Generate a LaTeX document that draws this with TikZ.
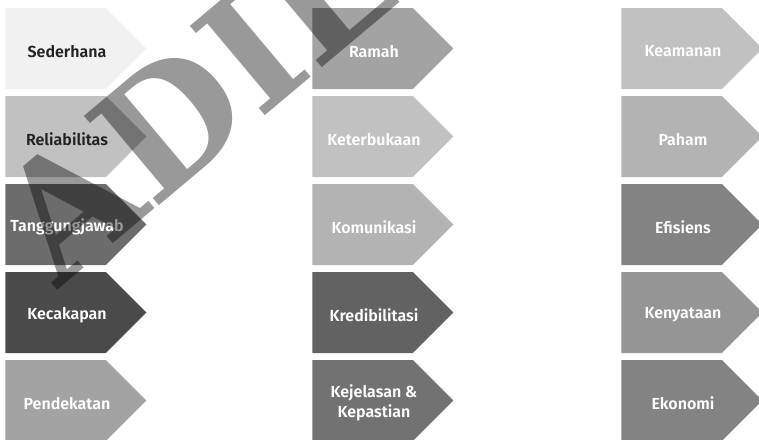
\documentclass[tikz,border=0pt]{standalone}
\usepackage{fontspec}
\setmainfont{Fira Sans}
\newfontfamily\tagfont{Fira Sans SemiBold}
\newfontfamily\wmfont{DejaVu Serif}
\usetikzlibrary{shapes.symbols}
\definecolor{inkdark}{HTML}{222222}
\definecolor{tagpale}{HTML}{F0F1F0}
\definecolor{taglight}{HTML}{C1C1C1}
\definecolor{tagsilver}{HTML}{B3B3B3}
\definecolor{tagmid}{HTML}{A3A3A3}
\definecolor{tagsteel}{HTML}{959595}
\definecolor{tagslate}{HTML}{828382}
\definecolor{tagiron}{HTML}{717271}
\definecolor{tagdim}{HTML}{626262}
\definecolor{tagcoal}{HTML}{4A4A4A}

\begin{document}
\begin{tikzpicture}[x=0.75pt, y=-0.75pt,
  tagbox/.style={shape=signal, signal to=east, signal pointer angle=90, minimum width=105.75pt,
    minimum height=60.75pt, inner sep=0pt, anchor=west},
  tagtext/.style={anchor=center, xshift=46.5pt, yshift=-2pt, align=center, text=white,
    font=\tagfont\fontsize{12}{15}\selectfont},
  darktext/.style={tagtext, text=inkdark},
  watermark/.style={anchor=base west, rotate=40, text=black, text opacity=0.4, inner sep=0pt,
    font=\wmfont\bfseries\fontsize{120}{120}\selectfont}]
\useasboundingbox (0,0) rectangle (759,439);
% first column
\node[tagbox, fill=tagpale, label={[darktext]west:Sederhana}] (sederhana) at (5,48.5) {};
\node[tagbox, fill=taglight, label={[darktext]west:Reliabilitas}] (reliabilitas) at (5,136.5) {};
\node[tagbox, fill=tagiron!95!black, label={[tagtext]west:Tanggungjawab}] (tanggungjawab) at (5,224.5) {};
\node[tagbox, fill=tagcoal, label={[tagtext]west:Kecakapan}] (kecakapan) at (5,312.5) {};
\node[tagbox, fill=tagmid, label={[tagtext]west:Pendekatan}] (pendekatan) at (5,400.5) {};
% second column
\node[tagbox, fill=tagmid, label={[tagtext]west:Ramah}] (ramah) at (312,48.5) {};
\node[tagbox, fill=taglight, label={[tagtext]west:Keterbukaan}] (keterbukaan) at (312,136.5) {};
\node[tagbox, fill=tagsilver, label={[tagtext]west:Komunikasi}] (komunikasi) at (312,224.5) {};
\node[tagbox, fill=tagdim, label={[tagtext]west:Kredibilitasi}] (kredibilitasi) at (312,312.5) {};
\node[tagbox, fill=tagiron, label={[tagtext]west:{Kejelasan \&\\Kepastian}}] (kejelasan) at (312,400.5) {};
% third column
\node[tagbox, fill=taglight, label={[tagtext]west:Keamanan}] (keamanan) at (621,48.5) {};
\node[tagbox, fill=tagsilver, label={[tagtext]west:Paham}] (paham) at (621,136.5) {};
\node[tagbox, fill=tagslate, label={[tagtext]west:Efisiens}] (efisiens) at (621,224.5) {};
\node[tagbox, fill=tagsteel, label={[tagtext]west:Kenyataan}] (kenyataan) at (621,312.5) {};
\node[tagbox, fill=tagslate, label={[tagtext]west:Ekonomi}] (ekonomi) at (621,400.5) {};
% watermark over the lot
\node[watermark] (adil) at (58,290) {ADIL};
\end{tikzpicture}
\end{document}
